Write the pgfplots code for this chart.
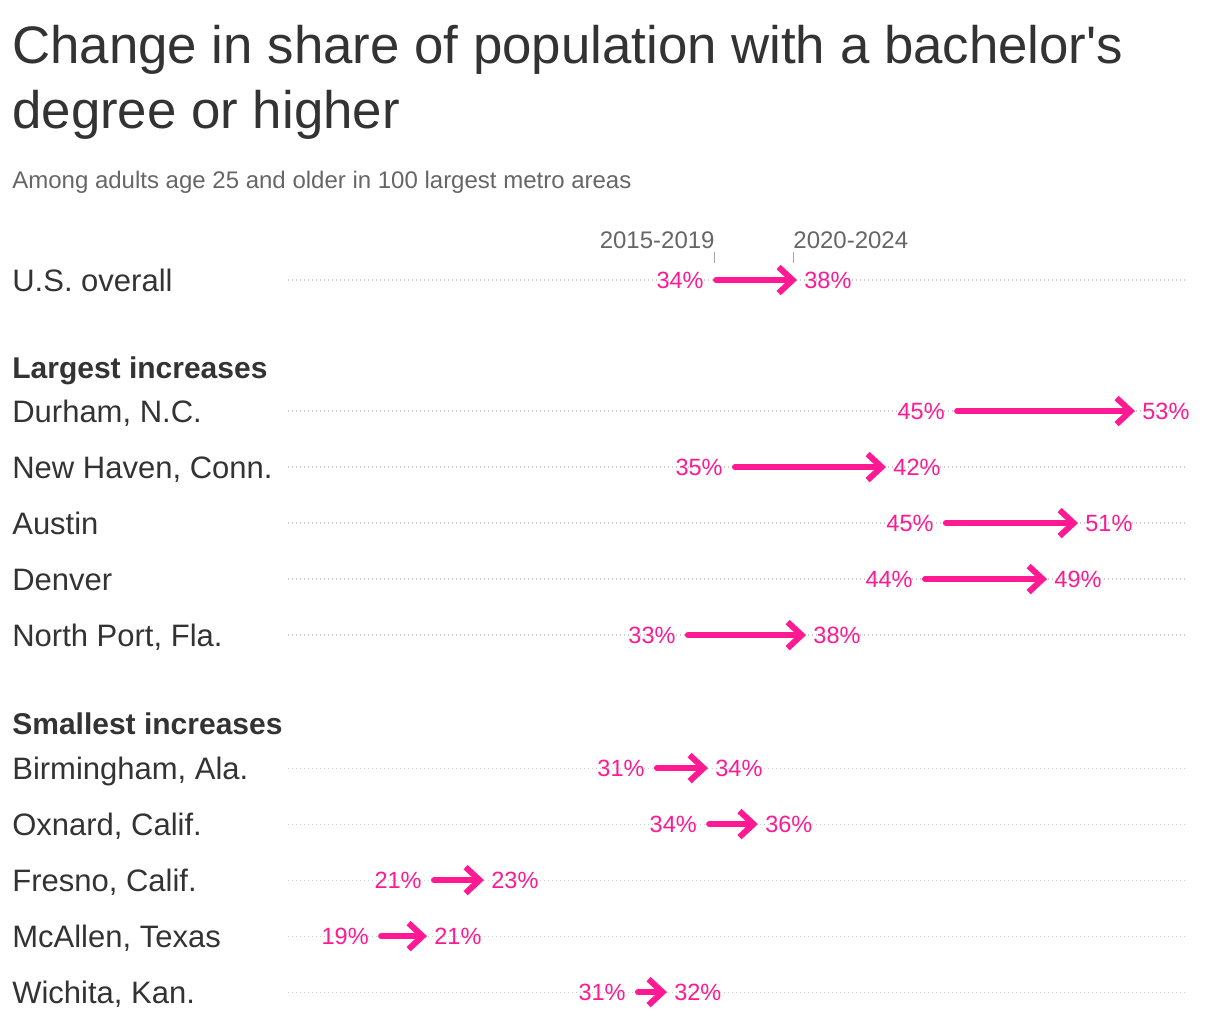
\documentclass[border=0pt]{standalone}
\usepackage{pgfplots}
\pgfplotsset{compat=1.18}
\usepackage{pgfplotstable}
\usepackage{fontspec}
\setmainfont{Liberation Sans}
\usetikzlibrary{arrows.meta}

\definecolor{axpink}{RGB}{255,26,148}
\definecolor{ink}{HTML}{333333}
\definecolor{subgray}{HTML}{666666}
\definecolor{rulegray}{HTML}{CCCCCC}

% y = row position (px from top), start/end = share (%), sl/el = printed labels
\pgfplotstableread{
y   start end   sl el
280 34.18 37.76 34 38
411 45.39 53.48 45 53
467 35.06 41.90 35 42
523 44.87 50.83 45 51
579 43.90 49.39 44 49
635 32.87 38.18 33 38
768 31.43 33.62 31 34
824 33.86 35.94 34 36
880 21.06 23.20 21 23
936 18.60 20.55 19 21
992 30.55 31.71 31 32
}\rows

\tikzset{
  rowlab/.style={anchor=base west, inner sep=0pt, text=ink, font=\fontsize{15.5}{18}\selectfont},
  grouplab/.style={anchor=base west, inner sep=0pt, text=ink, font=\fontsize{15}{18}\selectfont\bfseries},
  period/.style={inner sep=0pt, text=subgray, font=\fontsize{12}{14}\selectfont},
}

\pgfplotsset{
  vallabels/.style={only marks, mark=*, mark size=0pt,
    scatter/use mapped color={draw=none, fill=none},
    point meta=explicit symbolic,
    nodes near coords={\pgfplotspointmeta\%}},
}

\begin{document}
\begin{tikzpicture}
\begin{axis}[
    scale only axis,
    width=449.5pt, height=512pt,
    xmin=14.27, xmax=56.09,
    ymin=0, ymax=1024,
    y dir=reverse,
    axis line style={draw=none},
    xtick=\empty,
    ytick={280,411,467,523,579,635,768,824,880,936,992},
    yticklabels={},
    major tick length=0pt,
    ymajorgrids,
    major grid style={rulegray, line width=0.6pt, dash pattern=on 0.6pt off 1.4pt},
    clip=false,
]
% full page extent
\path (axis cs:0.875,0) rectangle (axis cs:57.62,1024);

% arrows
\addplot[axpink, line width=3pt, line cap=round, shorten >=-2pt,
    -{Straight Barb[sharp, length=7pt, width=13pt]},
    quiver={u=\thisrow{end}-\thisrow{start}, v=0}]
    table[x=start, y=y] {\rows};

% start labels
\addplot[vallabels,
    nodes near coords style={anchor=base east, inner sep=0pt, xshift=-6pt, yshift=-4.2pt,
        text=axpink, font=\fontsize{11.75}{14}\selectfont}]
    table[x=start, y=y, meta=sl] {\rows};

% end labels
\addplot[vallabels,
    nodes near coords style={anchor=base west, inner sep=0pt, xshift=5.5pt, yshift=-4.2pt,
        text=axpink, font=\fontsize{11.75}{14}\selectfont}]
    table[x=end, y=y, meta=el] {\rows};

% title and subtitle
\node[anchor=base west, inner sep=0pt, text=ink, font=\fontsize{26.4}{33}\selectfont]
    at (axis cs:1.43,63) {Change in share of population with a bachelor\textquotesingle s};
\node[anchor=base west, inner sep=0pt, text=ink, font=\fontsize{26.4}{33}\selectfont]
    at (axis cs:1.43,128) {degree or higher};
\node[anchor=base west, inner sep=0pt, text=subgray, font=\fontsize{12}{14}\selectfont]
    at (axis cs:1.43,188) {Among adults age 25 and older in 100 largest metro areas};

% period key above U.S. row
\node[period, anchor=base east] at (axis cs:34.13,248) {2015-2019};
\node[period, anchor=base west] at (axis cs:37.76,248) {2020-2024};
\draw[gray!70, line width=0.5pt] (axis cs:34.13,252) -- (axis cs:34.13,263);
\draw[gray!70, line width=0.5pt] (axis cs:37.76,252) -- (axis cs:37.76,263);

% row labels
\node[rowlab] at (axis cs:1.43,291) {U.S. overall};
\node[grouplab] at (axis cs:1.43,378) {Largest increases};
\node[rowlab] at (axis cs:1.43,422) {Durham, N.C.};
\node[rowlab] at (axis cs:1.43,478) {New Haven, Conn.};
\node[rowlab] at (axis cs:1.43,534) {Austin};
\node[rowlab] at (axis cs:1.43,590) {Denver};
\node[rowlab] at (axis cs:1.43,646) {North Port, Fla.};
\node[grouplab] at (axis cs:1.43,734) {Smallest increases};
\node[rowlab] at (axis cs:1.43,779) {Birmingham, Ala.};
\node[rowlab] at (axis cs:1.43,835) {Oxnard, Calif.};
\node[rowlab] at (axis cs:1.43,891) {Fresno, Calif.};
\node[rowlab] at (axis cs:1.43,947) {McAllen, Texas};
\node[rowlab] at (axis cs:1.43,1003) {Wichita, Kan.};
\end{axis}
\end{tikzpicture}
\end{document}
